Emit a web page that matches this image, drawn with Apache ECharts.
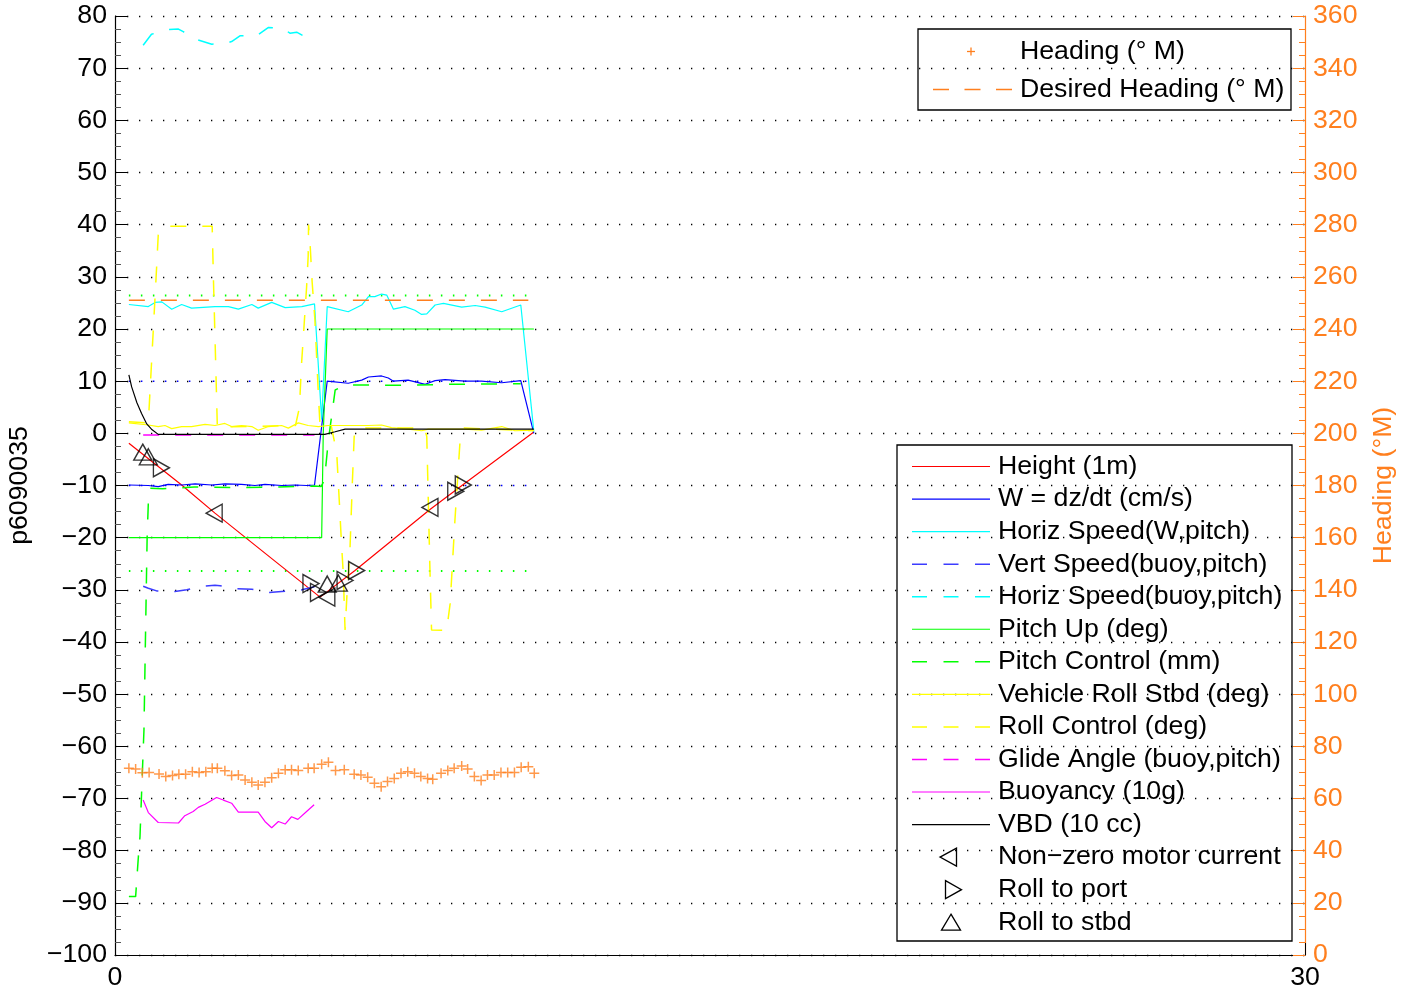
<!DOCTYPE html>
<html><head><meta charset="utf-8">
<script src="https://cdn.jsdelivr.net/npm/echarts@6/dist/echarts.min.js"></script>
<style>html,body{margin:0;padding:0;background:#fff}#c{width:1412px;height:993px}</style>
</head><body><div id="c"></div>
<script>
// ---------- data (time in minutes) ----------
const heightM = [[0.35,-1.9],[1.68,-9.9],[2.52,-15.3],[4.0,-24.3],[5.17,-31.4],[6.05,-26.3],[7.94,-14.6],[8.78,-9.8],[10.55,0.2]];
const wDzdt = [[0.35,-9.9],[0.84,-10.0],[1.09,-10.2],[1.34,-9.8],[1.68,-9.9],[2.02,-9.7],[2.44,-9.9],[2.77,-9.7],[3.19,-9.8],[3.53,-10.0],[3.78,-9.8],[4.2,-10.0],[4.54,-9.9],[4.83,-10.0],[5.03,-9.9],
  [5.35,10.0],[5.88,9.6],[6.22,10.2],[6.39,10.8],[6.72,11.0],[6.89,10.6],[7.02,10.0],[7.39,10.2],[7.82,9.4],[8.07,10.1],[8.32,10.3],[8.82,10.0],[9.24,10.0],[9.75,9.7],[10.23,10.1],[10.56,0.0]];
const horizSpeedW = [[0.35,24.7],[0.84,24.3],[1.01,25.1],[1.18,25.2],[1.43,23.8],[1.68,24.7],[1.93,24.0],[2.52,24.3],[2.86,24.3],[3.11,23.8],[3.45,24.7],[3.61,24.0],[3.95,25.1],[4.29,24.1],[4.71,24.3],[5.03,24.8],[5.21,2.6],
  [5.35,24.3],[5.88,23.3],[6.22,24.6],[6.39,26.2],[6.55,26.2],[6.72,26.7],[6.85,26.5],[7.02,23.8],[7.31,24.3],[7.56,23.6],[7.73,22.8],[7.86,22.9],[8.07,24.6],[8.28,24.9],[8.74,24.2],[9.08,24.5],[9.33,24.2],[9.75,23.3],[10.23,24.6],[10.56,0.3]];
const vertSpeedBuoy = [[0.71,-29.3],[0.84,-29.7],[1.05,-30.2],[1.51,-30.3],[1.81,-30.0],[2.1,-29.4],[2.52,-29.1],[2.65,-29.2],[3.07,-29.8],[3.45,-29.9],[3.87,-30.5],[4.2,-30.3],[4.71,-30.0],[5.03,-29.4]];
const horizSpeedBuoy = [[0.71,74.4],[0.92,76.5],[1.34,77.4],[1.6,77.5],[1.72,77.0],[2.06,75.5],[2.44,74.6],[2.82,74.8],[2.94,75.1],[3.15,76.2],[3.57,76.2],[3.87,77.8],[4.24,77.6],[4.41,76.7],[4.58,76.9],[4.92,75.5],[5.03,75.1]];
const pitchUp = [[0.35,-20],[5.21,-20],[5.25,0],[5.35,20],[10.56,20]];
const pitchControl = [[0.35,-88.8],[0.52,-88.8],[0.59,-81.1],[0.63,-77.3],[0.67,-69],[0.73,-56.9],[0.77,-38.3],[0.81,-20],[0.84,-13.4],[0.88,-10.5],[1.2,-10.6],[2.0,-10.3],[3.0,-10.4],[4.0,-10.3],[5.03,-10.1],[5.2,-10.2],[5.28,-8.9],[5.38,-1.3],[5.55,8.3],[5.82,9.3],[7.0,9.2],[8.5,9.4],[10.23,9.5]];
const vehicleRoll = [[0.35,2.0],[0.84,1.6],[1.09,1.3],[1.26,1.5],[1.43,0.9],[1.68,1.3],[1.93,1.3],[2.27,1.7],[2.52,1.5],[2.77,1.9],[2.94,1.3],[3.19,1.5],[3.45,1.3],[3.61,0.6],[3.87,1.3],[4.2,1.5],[4.37,1.0],[4.62,2.0],[4.87,1.5],[5.13,1.3],[5.38,1.5],[5.88,1.5],[6.39,1.5],[6.72,1.6],[6.97,1.1],[7.39,0.8],[7.73,0.5],[7.9,0.8],[8.4,0.8],[8.82,0.8],[9.24,0.6],[9.75,1.3],[10.08,0.5],[10.56,0.6]];
const rollControl = [[0.35,2.2],[0.84,2.0],[1.03,29],[1.09,38],[1.26,39.7],[2.45,39.7],[2.48,30],[2.55,10],[2.58,1.2],[4.55,1.5],[4.65,5],[4.7,13],[4.83,28],[4.87,34],[4.88,40],[4.92,36],[4.97,29],[5.04,21.7],[5.13,7],[5.17,1.3],[5.45,1.5],[5.59,-3.8],[5.67,-15.3],[5.71,-21.1],[5.76,-27.5],[5.78,-33.2],[5.8,-37.7],[5.85,-30.7],[5.92,-23],[5.98,-10.2],[6.03,-0.6],[6.1,1.0],[7.8,1.0],[7.86,-0.6],[7.9,-13.4],[7.94,-26.2],[7.98,-37.7],[8.0,-37.8],[8.36,-37.8],[8.45,-32.6],[8.57,-16.6],[8.7,-1.3],[8.8,1.0],[10.56,0.5]];
const glideAngle = [[0.71,-0.3],[5.03,-0.3]];
const buoyancy = [[0.71,-70.3],[0.84,-72.7],[1.09,-74.6],[1.6,-74.7],[1.76,-73.3],[1.97,-72.5],[2.1,-71.7],[2.27,-71.1],[2.56,-69.8],[2.73,-70.3],[2.94,-70.9],[3.11,-72.6],[3.61,-72.6],[3.78,-74.4],[3.95,-75.6],[4.12,-74.4],[4.29,-74.9],[4.45,-73.5],[4.61,-74.0],[4.83,-72.5],[5.02,-71.2]];
const vbd = [[0.35,11.2],[0.42,8.9],[0.55,5.9],[0.67,3.8],[0.8,1.8],[0.92,0.8],[1.09,-0.2],[5.29,-0.2],[5.55,0.3],[5.8,0.8],[10.56,0.8]];
const motorCurrent = [[2.5,-15.3],[5.34,-31.4],[7.94,-14.2]];
const rollPort = [[1.17,-6.6],[4.94,-28.8],[5.13,-30.5],[5.8,-28.2],[6.09,-26.3],[8.59,-11.1],[8.78,-9.9]];
const rollStbd = [[0.70,-3.6],[0.84,-4.5],[5.35,-28.9],[5.63,-28.7]];
const heading = [[0.35,71.6],[0.52,71.3],[0.69,69.9],[0.86,70.0],[1.11,69.4],[1.28,68.4],[1.45,68.8],[1.61,69.3],[1.78,69.3],[1.95,70.3],[2.12,70.0],[2.29,70.3],[2.45,71.6],[2.58,71.6],[2.77,70.6],[2.94,68.8],[3.11,69.0],[3.28,67.1],[3.45,66.2],[3.61,65.2],[3.78,66.2],[3.95,68.0],[4.12,69.7],[4.29,71.0],[4.45,71.0],[4.62,70.7],[4.87,71.6],[5.02,71.6],[5.21,73.1],[5.38,73.9],[5.56,70.7],[5.78,71.0],[6.03,69.3],[6.20,69.0],[6.37,68.1],[6.54,65.8],[6.71,64.5],[6.87,66.5],[7.04,67.7],[7.21,69.7],[7.38,70.3],[7.55,69.7],[7.71,68.4],[7.88,67.7],[8.01,67.4],[8.22,69.7],[8.39,70.7],[8.55,71.6],[8.74,72.5],[8.89,71.3],[9.06,68.4],[9.23,66.9],[9.39,69.0],[9.56,69.0],[9.73,70.0],[9.90,70.0],[10.07,70.0],[10.24,72.0],[10.42,72.2],[10.57,69.7]];
const desiredHeading = [[0.35,251],[10.42,251]];
const wTargetUp = [[0.35,10],[10.42,10]];
const wTargetDown = [[0.35,-10],[10.42,-10]];
const glideTargetUp = [[0.35,26.4],[10.4,26.4]];
const glideTargetDown = [[0.35,-26.4],[10.4,-26.4]];

const yLeftMin = -100, yLeftMax = 80, yLeftStep = 10;
const yRightMin = 0, yRightMax = 360, yRightStep = 20;
const xMin = 0, xMax = 30, xStep = 30;
const yLabel = 'p6090035';
const yRightLabel = 'Heading (\u00b0M)';

const legendMain = [
  ['Height (1m)', '#ff0000', 'solid', null],
  ['W = dz/dt (cm/s)', '#0000ff', 'solid', null],
  ['Horiz Speed(W,pitch)', '#00ffff', 'solid', null],
  ['Vert Speed(buoy,pitch)', '#3c3cff', 'dash', null],
  ['Horiz Speed(buoy,pitch)', '#00ffff', 'dash', null],
  ['Pitch Up (deg)', '#00ff00', 'solid', null],
  ['Pitch Control (mm)', '#00ff00', 'dash', null],
  ['Vehicle Roll Stbd (deg)', '#ffff00', 'solid', null],
  ['Roll Control (deg)', '#ffff00', 'dash', null],
  ['Glide Angle (buoy,pitch)', '#ff00ff', 'dash', null],
  ['Buoyancy (10g)', '#ff00ff', 'solid', null],
  ['VBD (10 cc)', '#000000', 'solid', null],
  ['Non\u2212zero motor current', '#000000', null, 'left'],
  ['Roll to port', '#000000', null, 'right'],
  ['Roll to stbd', '#000000', null, 'up']
];
const legendHeading = [['Heading (\u00b0 M)', 'plus'], ['Desired Heading (\u00b0 M)', 'dash']];

// ---------- styling ----------
const FONT = 'Liberation Sans, Arial, Helvetica, sans-serif';
const FS = 26.7;
const ORANGE = '#ff7f1e';
const DASH = [16, 16];
const fmt = v => String(v).replace('-', '\u2212');

function lineS(name, data, color, dashed, width, z) {
  return { name, type: 'line', data, xAxisIndex: 0, yAxisIndex: 0, symbol: 'none', showSymbol: false,
    lineStyle: { color, width: width || 1.2, type: dashed ? DASH : 'solid' }, itemStyle: { color },
    animation: false, silent: true, z: z || 2 };
}
function dotS(data, color, width) {
  return { type: 'line', data, symbol: 'none', lineStyle: { color, width: width, type: [1.5, 10.5] }, animation: false, silent: true, z: 1 };
}
function triS(name, data, rot) {
  return { name, type: 'scatter', data, symbol: 'triangle', symbolSize: [18, 16], symbolRotate: rot,
    itemStyle: { color: 'rgba(0,0,0,0)', borderColor: '#000', borderWidth: 1.4 }, animation: false, silent: true, z: 5 };
}

const series = [
  dotS(wTargetUp, '#0000ff', 1.5), dotS(wTargetDown, '#0000ff', 1.5),
  dotS(glideTargetUp, '#00ff00', 2), dotS(glideTargetDown, '#00ff00', 2),
  lineS('Height (1m)', heightM, '#ff0000', false),
  lineS('W = dz/dt (cm/s)', wDzdt, '#0000ff', false),
  lineS('Horiz Speed(W,pitch)', horizSpeedW, '#00ffff', false),
  lineS('Vert Speed(buoy,pitch)', vertSpeedBuoy, '#3c3cff', true, 1.5),
  lineS('Horiz Speed(buoy,pitch)', horizSpeedBuoy, '#00ffff', true, 1.5),
  lineS('Pitch Up (deg)', pitchUp, '#00ff00', false),
  lineS('Pitch Control (mm)', pitchControl, '#00ff00', true, 1.5),
  lineS('Vehicle Roll Stbd (deg)', vehicleRoll, '#ffff00', false),
  lineS('Roll Control (deg)', rollControl, '#ffff00', true, 1.5),
  lineS('Glide Angle (buoy,pitch)', glideAngle, '#ff00ff', true, 1.5),
  lineS('Buoyancy (10g)', buoyancy, '#ff00ff', false),
  lineS('VBD (10 cc)', vbd, '#000000', false),
  triS('Non\u2212zero motor current', motorCurrent, 90),
  triS('Roll to port', rollPort, -90),
  triS('Roll to stbd', rollStbd, 0),
  { name: 'Desired Heading (\u00b0 M)', type: 'line', yAxisIndex: 1, data: desiredHeading, symbol: 'none',
    lineStyle: { color: ORANGE, width: 1.6, type: DASH }, animation: false, silent: true, z: 3 },
  { name: 'Heading (\u00b0 M)', type: 'scatter', yAxisIndex: 1, data: heading, symbol: 'path://M0,5H10M5,0V10', symbolSize: 10,
    itemStyle: { color: 'rgba(0,0,0,0)', borderColor: ORANGE, borderWidth: 1.5 }, animation: false, silent: true, z: 4 }
];

// ---------- legends as graphics ----------
const graphic = [];
const L = { x: 897, y: 445, w: 395, h: 496, row0: 466.5, dy: 32.55, lx1: 912, lx2: 990, tx: 998 };
graphic.push({ type: 'rect', shape: { x: L.x, y: L.y, width: L.w, height: L.h }, style: { fill: 'none', stroke: '#000', lineWidth: 1.3 }, z: 100 });
legendMain.forEach((e, i) => {
  const y = L.row0 + i * L.dy;
  if (e[2]) {
    graphic.push({ type: 'line', shape: { x1: L.lx1, y1: y, x2: L.lx2, y2: y },
      style: { stroke: e[1], lineWidth: e[2] === 'dash' ? 1.5 : 1.2, lineDash: e[2] === 'dash' ? [15, 16.5] : null }, z: 100 });
  } else {
    let pts;
    if (e[3] === 'left') pts = [[940, y], [956.5, y - 9], [956.5, y + 9]];
    else if (e[3] === 'right') pts = [[945.5, y - 9], [961.5, y], [945.5, y + 9]];
    else pts = [[951, y - 8], [960.5, y + 8], [941.5, y + 8]];
    graphic.push({ type: 'polygon', shape: { points: pts }, style: { fill: 'none', stroke: '#000', lineWidth: 1.3 }, z: 100 });
  }
  graphic.push({ type: 'text', x: L.tx, y: y, style: { text: e[0], fontSize: FS, fontFamily: FONT, fill: '#000', verticalAlign: 'middle', align: 'left' }, z: 100 });
});
const H = { x: 918, y: 29, w: 373, h: 81, rows: [51.5, 89.5], tx: 1020 };
graphic.push({ type: 'rect', shape: { x: H.x, y: H.y, width: H.w, height: H.h }, style: { fill: 'none', stroke: '#000', lineWidth: 1.3 }, z: 100 });
legendHeading.forEach((e, i) => {
  const y = H.rows[i];
  if (e[1] === 'plus') {
    graphic.push({ type: 'line', shape: { x1: 967, y1: y, x2: 975, y2: y }, style: { stroke: ORANGE, lineWidth: 1.3 }, z: 100 });
    graphic.push({ type: 'line', shape: { x1: 971, y1: y - 4, x2: 971, y2: y + 4 }, style: { stroke: ORANGE, lineWidth: 1.3 }, z: 100 });
  } else {
    graphic.push({ type: 'line', shape: { x1: 933, y1: y, x2: 1012, y2: y }, style: { stroke: ORANGE, lineWidth: 1.6, lineDash: [16, 15.5] }, z: 100 });
  }
  graphic.push({ type: 'text', x: H.tx, y: y, style: { text: e[0], fontSize: FS, fontFamily: FONT, fill: '#000', verticalAlign: 'middle', align: 'left' }, z: 100 });
});

const chart = echarts.init(document.getElementById('c'), null, { renderer: 'canvas' });
chart.setOption({
  backgroundColor: '#fff',
  animation: false,
  textStyle: { fontFamily: FONT },
  grid: { left: 115, right: 107, top: 16, bottom: 38, containLabel: false, outerBoundsMode: 'none' },
  xAxis: {
    type: 'value', min: xMin, max: xMax, interval: xStep,
    axisLine: { show: true, onZero: false, lineStyle: { color: '#000', width: 1.2 } },
    axisTick: { show: true, inside: true, length: 12, lineStyle: { color: '#000' } },
    splitLine: { show: false },
    axisLabel: { color: '#000', fontSize: FS, fontFamily: FONT, margin: 9, formatter: fmt }
  },
  yAxis: [
    {
      type: 'value', position: 'left', min: yLeftMin, max: yLeftMax, interval: yLeftStep,
      axisLine: { show: true, onZero: false, lineStyle: { color: '#000', width: 1.2 } },
      axisTick: { show: true, inside: true, length: 12, lineStyle: { color: '#000' } },
      minorTick: { show: true, splitNumber: 4, length: 6, lineStyle: { color: '#555' } },
      splitLine: { show: true, lineStyle: { color: '#000', width: 1.3, type: [1.3, 10.7] } },
      axisLabel: { color: '#000', fontSize: FS, fontFamily: FONT, margin: 8, formatter: fmt },
      name: yLabel, nameLocation: 'middle', nameGap: 82, nameRotate: 90,
      nameTextStyle: { color: '#000', fontSize: FS, fontFamily: FONT }
    },
    {
      type: 'value', position: 'right', min: yRightMin, max: yRightMax, interval: yRightStep,
      axisLine: { show: true, onZero: false, lineStyle: { color: ORANGE, width: 1.2 } },
      axisTick: { show: true, inside: true, length: 12, lineStyle: { color: ORANGE } },
      minorTick: { show: true, splitNumber: 4, length: 6, lineStyle: { color: ORANGE } },
      splitLine: { show: false },
      axisLabel: { color: ORANGE, fontSize: FS, fontFamily: FONT, margin: 8 },
      name: yRightLabel, nameLocation: 'middle', nameGap: 65, nameRotate: 90,
      nameTextStyle: { color: ORANGE, fontSize: FS, fontFamily: FONT }
    }
  ],
  series,
  graphic
});
</script>
</body></html>
